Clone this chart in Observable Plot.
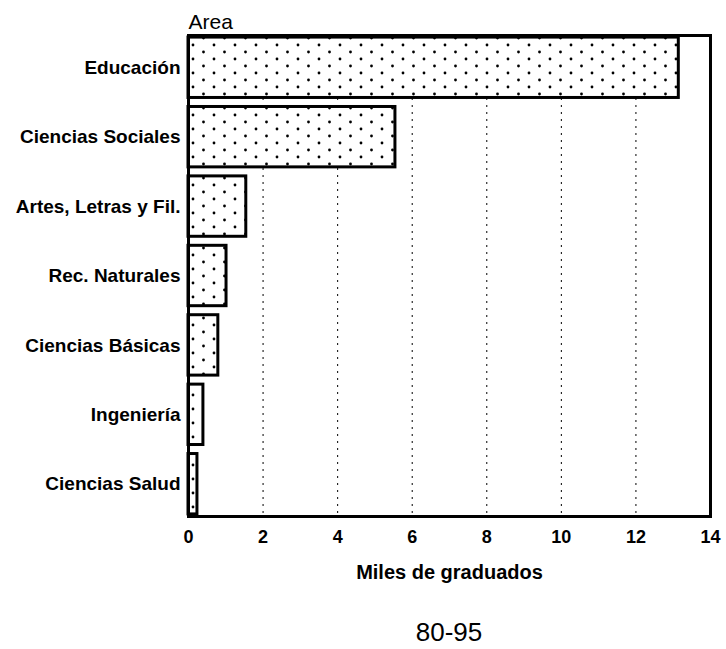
<!DOCTYPE html>
<html>
<head>
<meta charset="utf-8">
<script src="https://cdn.jsdelivr.net/npm/d3@7"></script>
<script src="https://cdn.jsdelivr.net/npm/@observablehq/plot@0.6"></script>
<style>
  body { margin: 0; background: #fff; font-family: "Liberation Sans", Arial, sans-serif; }
  #footer { padding-left: 188px; padding-right: 16px; text-align: center; font-size: 26px; line-height: 30px; margin-top: 17px; color: #000; }
</style>
</head>
<body>
<div id="chart"></div>
<div id="footer">80-95</div>
<script>
const areas = ["Educación", "Ciencias Sociales", "Artes, Letras y Fil.", "Rec. Naturales", "Ciencias Básicas", "Ingeniería", "Ciencias Salud"];
const graduados = [13.15, 5.55, 1.55, 1.02, 0.8, 0.4, 0.24];
const xTicks = [0, 2, 4, 6, 8, 10, 12, 14];
const gridTicks = [2, 4, 6, 8, 10, 12];

const data = areas.map((a, i) => ({area: a, value: graduados[i]}));

const svg = Plot.plot({
  width: 726,
  height: 600,
  marginLeft: 188,
  marginRight: 16,
  marginTop: 35,
  marginBottom: 84,
  style: {fontFamily: "'Liberation Sans', Arial, sans-serif", color: "#000", background: "#fff"},
  x: {domain: [0, 14]},
  y: {domain: areas, paddingInner: 0.13, paddingOuter: 0.03, round: false},
  marks: [
    Plot.gridX(gridTicks, {stroke: "#000", strokeOpacity: 1, strokeWidth: 1, strokeDasharray: "2,5"}),
    Plot.barX(data, {x: "value", y: "area", fill: "url(#dots)", stroke: "#000", strokeWidth: 3}),
    Plot.frame({stroke: "#000", strokeWidth: 3}),
    Plot.axisX(xTicks, {tickSize: 0, tickPadding: 14, fontSize: 18, fontWeight: "bold", label: null}),
    Plot.axisX({tickSize: 0, ticks: [], fontSize: 20, fontWeight: "bold", label: "Miles de graduados", labelAnchor: "center", labelOffset: 62, labelArrow: "none", dx: -20}),
    Plot.axisY({tickSize: 0, tickPadding: 8, fontSize: 19, fontWeight: "bold", label: null}),
    Plot.text(["Area"], {frameAnchor: "top-left", dy: -21, fontSize: 21, textAnchor: "start"})
  ]
});

const defs = d3.select(svg).insert("defs", ":first-child");
const pat = defs.append("pattern")
  .attr("id", "dots")
  .attr("patternUnits", "userSpaceOnUse")
  .attr("width", 21)
  .attr("height", 14);
pat.append("rect").attr("width", 21).attr("height", 14).attr("fill", "#fff");
pat.append("circle").attr("cx", 4).attr("cy", 3).attr("r", 1.4).attr("fill", "#000");
pat.append("circle").attr("cx", 14.5).attr("cy", 10).attr("r", 1.4).attr("fill", "#000");

document.getElementById("chart").appendChild(svg);
</script>
</body>
</html>
